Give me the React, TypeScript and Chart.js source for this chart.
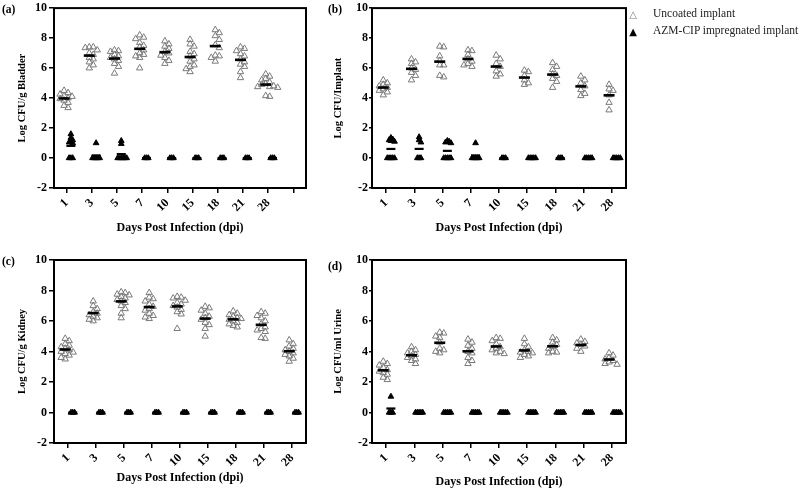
import React, { useEffect, useRef } from "react";
import { Chart, registerables } from "chart.js";

Chart.register(...registerables);

const FONT = "'Liberation Serif', 'Times New Roman', Times, serif";

// ---- categories & ticks ----
const days = ["1", "3", "5", "7", "10", "15", "18", "21", "28"];
const bladderDays = [...days, ""];
const yTicks = [-2, 0, 2, 4, 6, 8, 10];

// ---- (a) Bladder ----
const bladderUncoated = [
  [4.5, 4.35, 4.25, 4.15, 4.1, 4.0, 3.95, 3.85, 3.7, 3.5, 3.35],
  [7.4, 7.4, 7.35, 7.2, 7.0, 6.9, 6.7, 6.6, 6.4, 6.2, 6.0],
  [7.2, 7.15, 7.1, 6.9, 6.8, 6.7, 6.6, 6.5, 6.3, 6.1, 5.65],
  [8.2, 8.05, 7.95, 7.7, 7.5, 7.4, 7.2, 7.0, 6.9, 6.8, 6.7, 6.0],
  [7.8, 7.6, 7.45, 7.3, 7.1, 7.0, 6.85, 6.7, 6.5, 6.3],
  [7.9, 7.6, 7.45, 7.1, 6.95, 6.8, 6.6, 6.45, 6.2, 6.1, 5.95, 5.75],
  [8.55, 8.35, 8.15, 7.9, 7.55, 7.35, 6.85, 6.8, 6.7, 6.45],
  [7.4, 7.3, 7.15, 6.95, 6.8, 6.6, 6.4, 6.25, 6.1, 5.75, 5.35],
  [5.6, 5.45, 5.3, 5.2, 5.05, 4.95, 4.9, 4.8, 4.75, 4.75, 4.7, 4.15, 4.1],
];
const bladderImpregnated = [
  [1.6, 1.35, 1.2, 1.1, 1.05, 1.0, 0, 0, 0],
  [1.0, 0, 0, 0, 0, 0],
  [1.15, 0.95, 0, 0, 0, 0, 0, 0],
  [0, 0, 0],
  [0, 0, 0],
  [0, 0, 0],
  [0, 0, 0],
  [0, 0, 0],
  [0, 0, 0],
];

// ---- (b) Implant ----
const implantUncoated = [
  [5.2, 5.0, 4.9, 4.8, 4.7, 4.6, 4.5, 4.4, 4.2],
  [6.6, 6.4, 6.3, 6.0, 5.9, 5.7, 5.5, 5.2],
  [7.45, 7.4, 6.8, 6.5, 6.2, 6.2, 5.5, 5.4],
  [7.2, 7.15, 6.9, 6.6, 6.45, 6.3, 6.2, 6.1],
  [6.85, 6.6, 6.3, 6.1, 5.8, 5.6, 5.45],
  [5.85, 5.75, 5.5, 5.2, 5.0, 4.9],
  [6.35, 6.1, 5.9, 5.6, 5.5, 5.3, 5.1, 4.7],
  [5.45, 5.2, 5.0, 4.8, 4.55, 4.3, 4.15],
  [4.9, 4.6, 4.5, 4.2, 3.7, 3.2],
];
const implantImpregnated = [
  [1.35, 1.25, 1.2, 1.15, 1.1, 0, 0, 0, 0, 0],
  [1.4, 1.2, 1.05, 0, 0, 0],
  [1.15, 1.1, 1.05, 1.0, 0, 0, 0, 0, 0],
  [1.0, 0, 0, 0, 0, 0],
  [0, 0, 0],
  [0, 0, 0, 0, 0],
  [0, 0, 0],
  [0, 0, 0, 0, 0],
  [0, 0, 0, 0, 0],
];

// ---- (c) Kidney ----
const kidneyUncoated = [
  [4.85, 4.7, 4.5, 4.4, 4.3, 4.2, 4.1, 4.0, 3.95, 3.85, 3.75, 3.6, 3.5],
  [7.3, 7.0, 6.8, 6.6, 6.5, 6.4, 6.3, 6.2, 6.1, 6.0],
  [7.9, 7.85, 7.75, 7.7, 7.6, 7.5, 7.4, 7.3, 7.2, 7.0, 6.8, 6.5, 6.2],
  [7.85, 7.55, 7.45, 7.3, 7.1, 6.95, 6.8, 6.7, 6.5, 6.35, 6.25, 6.15],
  [7.6, 7.55, 7.5, 7.35, 7.2, 7.1, 7.0, 6.9, 6.75, 6.6, 6.45, 5.5],
  [6.95, 6.85, 6.7, 6.5, 6.3, 6.2, 6.1, 5.9, 5.75, 5.5, 5.0],
  [6.65, 6.5, 6.4, 6.3, 6.2, 6.15, 6.1, 6.0, 5.9, 5.8, 5.7, 5.6],
  [6.6, 6.5, 6.35, 6.2, 6.0, 5.8, 5.6, 5.5, 5.4, 5.3, 4.9, 4.85],
  [4.75, 4.5, 4.35, 4.2, 4.1, 4.0, 3.9, 3.8, 3.7, 3.55, 3.35],
];
const kidneyImpregnated = [
  [0, 0, 0], [0, 0, 0], [0, 0, 0], [0, 0, 0], [0, 0, 0],
  [0, 0, 0], [0, 0, 0], [0, 0, 0], [0, 0, 0],
];

// ---- (d) Urine ----
const urineUncoated = [
  [3.35, 3.2, 3.1, 2.95, 2.8, 2.7, 2.6, 2.5, 2.3, 2.15],
  [4.3, 4.1, 4.0, 3.9, 3.8, 3.7, 3.6, 3.5, 3.4, 3.2],
  [5.25, 5.2, 5.0, 4.9, 4.6, 4.2, 4.1, 4.0, 3.9],
  [4.8, 4.6, 4.4, 4.2, 4.0, 3.9, 3.6, 3.4, 3.2],
  [4.9, 4.85, 4.7, 4.5, 4.3, 4.2, 4.1, 4.0, 3.9, 3.85],
  [4.85, 4.5, 4.3, 4.1, 4.0, 3.95, 3.9, 3.8, 3.7, 3.6],
  [4.9, 4.75, 4.6, 4.45, 4.3, 4.2, 4.0, 3.95, 3.9],
  [4.8, 4.65, 4.55, 4.45, 4.35, 4.2, 4.0],
  [3.9, 3.75, 3.6, 3.5, 3.4, 3.3, 3.2, 3.15],
];
const urineImpregnated = [
  [1.05, 0, 0, 0],
  [0, 0, 0, 0, 0], [0, 0, 0, 0, 0], [0, 0, 0, 0, 0], [0, 0, 0, 0, 0],
  [0, 0, 0, 0, 0], [0, 0, 0, 0, 0], [0, 0, 0, 0, 0], [0, 0, 0, 0, 0],
];

const seriesNames = ["Uncoated implant", "AZM-CIP impregnated implant"];

// ---- helpers ----
const mean = (v: number[]) => v.reduce((a, b) => a + b, 0) / v.length;

// deterministic beeswarm spread (pixel-space collision, returned in data units)
function swarm(values: number[], center: number, pxX: number, pxY: number, minDx: number, minDy: number, step: number) {
  const sorted = [...values].sort((a, b) => b - a);
  const placed: { x: number; y: number }[] = [];
  const out: { x: number; y: number }[] = [];
  for (const v of sorted) {
    const ypx = v * pxY;
    let k = 0;
    let dx = 0;
    for (;;) {
      const cand = k === 0 ? 0 : (k % 2 === 1 ? 1 : -1) * Math.ceil(k / 2) * step;
      if (placed.every((p) => Math.abs(p.x - cand) >= minDx || Math.abs(p.y - ypx) >= minDy)) {
        dx = cand;
        break;
      }
      k++;
    }
    placed.push({ x: dx, y: ypx });
    out.push({ x: center + dx / pxX, y: v });
  }
  return out;
}

const framePlugin = {
  id: "frame",
  afterDraw(chart: any) {
    const { ctx, chartArea } = chart;
    ctx.save();
    ctx.strokeStyle = "#000";
    ctx.lineWidth = 2;
    ctx.strokeRect(chartArea.left, chartArea.top, chartArea.right - chartArea.left, chartArea.bottom - chartArea.top);
    ctx.restore();
  },
};

type Box = { left: number; top: number; width: number; height: number };
type Area = { left: number; top: number; right: number; bottom: number };

type PanelProps = {
  labels: string[];
  uncoated: number[][];
  impregnated: number[][];
  yTitle: string;
  box: Box;
  area: Area;
  yTitleX: number;
  xTitleY: number;
  yTickLen: number;
  yTickPad: number;
};

const OPEN_SHIFT = -0.1;
const FILLED_SHIFT = 0.17;

function Panel(p: PanelProps) {
  const ref = useRef<HTMLCanvasElement | null>(null);
  useEffect(() => {
    if (!ref.current) return;
    const { box, area, labels } = p;
    const pxX = (area.right - area.left) / labels.length;
    const pxY = (area.bottom - area.top) / 12;
    const openPts = p.uncoated.flatMap((v, i) => swarm(v, i + OPEN_SHIFT, pxX, pxY, 4, 4, 2));
    const filledPts = p.impregnated.flatMap((v, i) => swarm(v, i + FILLED_SHIFT, pxX, pxY, 1.8, 2.5, 1.8));
    const openMeans = p.uncoated.map((v, i) => ({ x: i + OPEN_SHIFT, y: mean(v) }));
    const filledMeans = p.impregnated.map((v, i) => ({ x: i + FILLED_SHIFT, y: mean(v) }));
    const tickFont = { family: FONT, size: 12, weight: "bold" as const };

    const chart = new Chart(ref.current, {
      type: "scatter",
      data: {
        datasets: [
          { label: "mean-open", data: openMeans, pointStyle: "line", pointRadius: 5.5, borderColor: "#000", borderWidth: 2.6 },
          { label: "mean-filled", data: filledMeans, pointStyle: "line", pointRadius: 4.5, borderColor: "#000", borderWidth: 2.2 },
          { label: seriesNames[1], data: filledPts, pointStyle: "triangle", pointRadius: 3.3, backgroundColor: "#000", borderColor: "#000", borderWidth: 1 },
          { label: seriesNames[0], data: openPts, pointStyle: "triangle", pointRadius: 3.7, backgroundColor: "rgba(0,0,0,0)", borderColor: "#7a7a7a", borderWidth: 1 },
        ],
      },
      options: {
        animation: false,
        responsive: false,
        events: [],
        layout: { padding: { left: 0, top: area.top - box.top, right: box.left + box.width - area.right, bottom: 0 } },
        plugins: { legend: { display: false }, tooltip: { enabled: false } },
        scales: {
          x: {
            type: "linear",
            min: -0.5,
            max: labels.length - 0.5,
            afterBuildTicks: (s: any) => {
              s.ticks = labels.map((_, i) => ({ value: i }));
            },
            afterFit: (s: any) => {
              s.height = box.top + box.height - area.bottom;
              s.paddingLeft = 0;
              s.paddingRight = 0;
            },
            ticks: {
              callback: (_v: any, i: number) => labels[i] ?? "",
              autoSkip: false,
              maxRotation: 45,
              minRotation: 45,
              font: tickFont,
              color: "#000",
              padding: 3,
            },
            grid: { drawOnChartArea: false, drawTicks: true, tickLength: 5, color: "#000", lineWidth: 1.5 },
            border: { display: false },
            title: {
              display: true,
              text: "Days Post Infection (dpi)",
              font: { family: FONT, size: 12, weight: "bold" },
              color: "#000",
              padding: { top: 0, bottom: box.top + box.height - p.xTitleY - 7.2 },
            },
          },
          y: {
            type: "linear",
            min: -2,
            max: 10,
            afterBuildTicks: (s: any) => {
              s.ticks = yTicks.map((v) => ({ value: v }));
            },
            afterFit: (s: any) => {
              s.width = area.left - box.left;
              s.paddingTop = 0;
              s.paddingBottom = 0;
            },
            ticks: { font: tickFont, color: "#000", padding: p.yTickPad },
            grid: { drawOnChartArea: false, drawTicks: true, tickLength: p.yTickLen, color: "#000", lineWidth: 1.5 },
            border: { display: false },
            title: {
              display: true,
              text: p.yTitle,
              font: { family: FONT, size: 10.5, weight: "bold" },
              color: "#000",
              padding: { top: p.yTitleX - box.left - 6.3, bottom: 0 },
            },
          },
        },
      },
      plugins: [framePlugin],
    } as any);
    return () => chart.destroy();
  }, []);
  const { box } = p;
  return (
    <canvas
      ref={ref}
      width={box.width}
      height={box.height}
      style={{ position: "absolute", left: box.left, top: box.top, width: box.width, height: box.height }}
    />
  );
}

const labelStyle = (left: number, top: number): React.CSSProperties => ({
  position: "absolute",
  left,
  top,
  font: `bold 11.5px ${FONT}`,
  lineHeight: "14px",
  color: "#000",
});

const legendMark = (top: number, color: string): React.CSSProperties => ({
  position: "absolute",
  left: 627,
  top,
  width: 12,
  lineHeight: "16px",
  fontSize: 10,
  color,
  fontFamily: "'DejaVu Sans', sans-serif",
  textAlign: "center",
});

const legendText = (top: number): React.CSSProperties => ({
  position: "absolute",
  left: 653,
  top,
  lineHeight: "16px",
  font: `11.5px ${FONT}`,
  color: "#222",
  whiteSpace: "nowrap",
});

export default function App() {
  return (
    <div style={{ position: "absolute", left: 0, top: 0, width: 800, height: 491, background: "#fff", overflow: "hidden" }}>
      <Panel
        labels={bladderDays}
        uncoated={bladderUncoated}
        impregnated={bladderImpregnated}
        yTitle="Log CFU/g Bladder"
        box={{ left: 0, top: 0, width: 320, height: 245 }}
        area={{ left: 54, top: 5, right: 306, bottom: 188 }}
        yTitleX={22.5}
        xTitleY={228}
        yTickLen={5}
        yTickPad={2}
      />
      <Panel
        labels={days}
        uncoated={implantUncoated}
        impregnated={implantImpregnated}
        yTitle="Log CFU/Implant"
        box={{ left: 318, top: 0, width: 322, height: 245 }}
        area={{ left: 372, top: 5, right: 626, bottom: 188 }}
        yTitleX={338}
        xTitleY={228}
        yTickLen={3}
        yTickPad={1}
      />
      <Panel
        labels={days}
        uncoated={kidneyUncoated}
        impregnated={kidneyImpregnated}
        yTitle="Log CFU/g Kidney"
        box={{ left: 0, top: 245, width: 320, height: 246 }}
        area={{ left: 54, top: 260, right: 306, bottom: 443 }}
        yTitleX={22.5}
        xTitleY={478}
        yTickLen={5}
        yTickPad={2}
      />
      <Panel
        labels={days}
        uncoated={urineUncoated}
        impregnated={urineImpregnated}
        yTitle="Log CFU/ml Urine"
        box={{ left: 318, top: 245, width: 322, height: 246 }}
        area={{ left: 372, top: 260, right: 626, bottom: 443 }}
        yTitleX={338}
        xTitleY={482}
        yTickLen={3}
        yTickPad={1}
      />
      <div style={labelStyle(2, 2)}>(a)</div>
      <div style={labelStyle(328, 2)}>(b)</div>
      <div style={labelStyle(2, 254)}>(c)</div>
      <div style={labelStyle(328, 259)}>(d)</div>
      <div style={legendMark(7, "#808080")}>△</div>
      <div style={legendMark(24, "#000")}>▲</div>
      <div style={legendText(7)}>{seriesNames[0]}</div>
      <div style={legendText(24)}>{seriesNames[1]}</div>
    </div>
  );
}
